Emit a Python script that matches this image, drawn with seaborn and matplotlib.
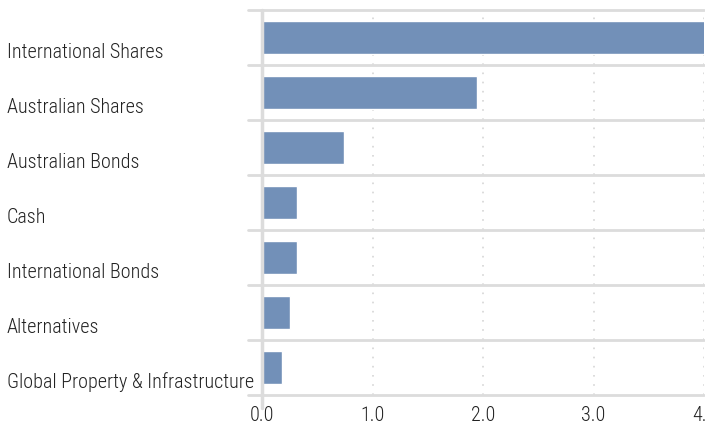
import matplotlib
matplotlib.use("Agg")
import matplotlib.pyplot as plt
import matplotlib.transforms as mtransforms
import seaborn as sns
import pandas as pd

# Asset allocation values
categories = [
    "International Shares",
    "Australian Shares",
    "Australian Bonds",
    "Cash",
    "International Bonds",
    "Alternatives",
    "Global Property & Infrastructure",
]
values = [4.05, 1.95, 0.74, 0.32, 0.32, 0.25, 0.18]
x_ticks = [0, 1, 2, 3, 4]
x_ticklabels = ["0.0", "1.0", "2.0", "3.0", "4.0"]

df = pd.DataFrame({"category": categories, "value": values})

sns.set_theme(style="white")
plt.rcParams["font.family"] = ["Roboto Condensed", "DejaVu Sans"]
plt.rcParams["font.weight"] = "light"

fig = plt.figure(figsize=(7.05, 4.3), dpi=100)
ax = fig.add_axes([262 / 705, 35 / 430, 442 / 705, 385 / 430])

sns.barplot(data=df, y="category", x="value", orient="h", color="#7290b8",
            saturation=1, width=0.6, ax=ax)

ax.set_xlim(0, 4)
ax.set_ylim(len(categories) - 0.5, -0.5)
ax.set_xlabel("")
ax.set_ylabel("")
for s in ax.spines.values():
    s.set_visible(False)

grid_col = "#dcdcdc"
# dotted vertical gridlines
for xv in x_ticks[1:]:
    ax.axvline(xv, color="#d6d6d6", lw=1.2, ls=(0, (1, 4.5)), zorder=0)

# row separators extending into label area
ytr = ax.get_yaxis_transform()
for b in [i - 0.5 for i in range(len(categories) + 1)]:
    ax.plot([-0.032, 1], [b, b], transform=ytr, color=grid_col, lw=2,
            clip_on=False, zorder=1)

# zero line
xtr = ax.get_xaxis_transform()
ax.plot([0, 0], [-0.035, 1], transform=xtr, color=grid_col, lw=2.5,
        clip_on=False, zorder=3)

ax.set_xticks(x_ticks)
ax.set_xticklabels(x_ticklabels)
ax.tick_params(axis="x", length=5, width=1.5, color=grid_col, pad=3,
               labelsize=14.5, labelcolor="#222222")
ax.tick_params(axis="y", length=0)
ax.set_yticklabels([])

# category labels, left aligned near figure edge
lbl_tr = mtransforms.blended_transform_factory(fig.transFigure, ax.transData)
offset = mtransforms.ScaledTranslation(0, -15 / 100, fig.dpi_scale_trans)
for i, c in enumerate(categories):
    ax.text(7 / 705, i, c, transform=lbl_tr + offset, ha="left", va="center",
            fontsize=14.5, color="#222222", clip_on=False)

fig.savefig("out.png", dpi=100)
